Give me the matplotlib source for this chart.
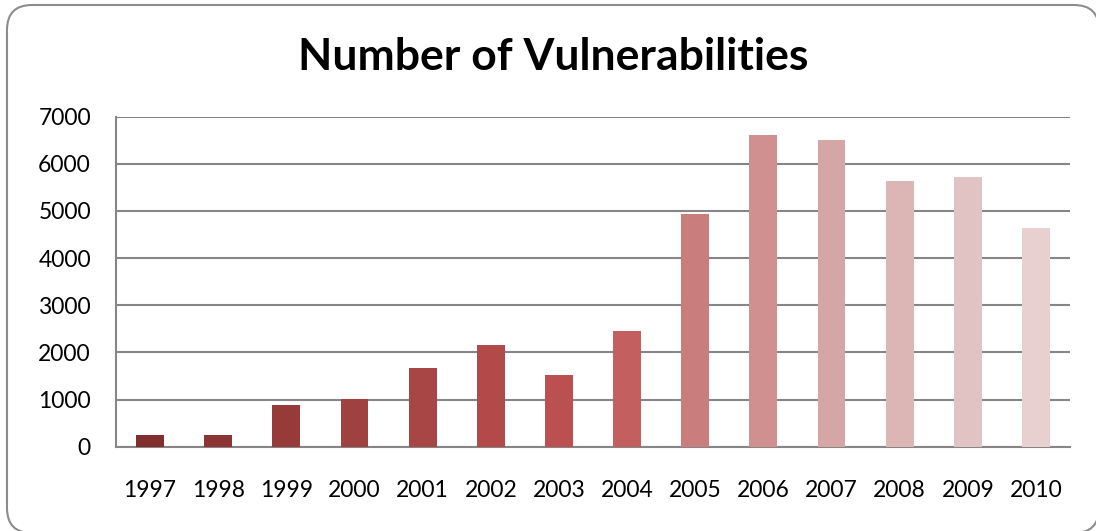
import matplotlib.pyplot as plt
from matplotlib.patches import FancyBboxPatch

years = ["1997", "1998", "1999", "2000", "2001", "2002", "2003",
         "2004", "2005", "2006", "2007", "2008", "2009", "2010"]
counts = [248, 248, 885, 1012, 1670, 2158, 1521,
          2455, 4936, 6612, 6506, 5636, 5721, 4639]
bar_colors = ["#822e2e", "#8c3333", "#963a3a", "#a04141", "#a84545",
              "#b24a4a", "#bc5050", "#c45f5f", "#c97d7d", "#d19090",
              "#d6a6a6", "#dcb5b5", "#e2c3c3", "#e8d0d0"]
y_ticks = [0, 1000, 2000, 3000, 4000, 5000, 6000, 7000]

plt.rcParams["font.family"] = ["Lato", "DejaVu Sans"]

fig = plt.figure(figsize=(10.96, 5.31), dpi=100)

# rounded chart-area border, partly running off the right and bottom edges.
# filled white so Agg does not clip the stroke onto the canvas edge
frame = FancyBboxPatch((0.07, -0.02), 10.92, 5.28,
                       boxstyle="round,pad=0,rounding_size=0.25",
                       transform=fig.dpi_scale_trans, facecolor="white",
                       edgecolor="#8c8c8c", linewidth=1.5, zorder=-1)
fig.patches.append(frame)

ax = fig.add_axes([0.1058, 0.1588, 0.8705, 0.6214])

positions = range(len(years))
ax.bar(positions, counts, width=0.41, color=bar_colors, zorder=3)

ax.set_xlim(-0.5, len(years) - 0.5)
ax.set_ylim(0, 7000)
ax.set_yticks(y_ticks)
ax.set_xticks(list(positions))
ax.set_xticklabels(years)
ax.tick_params(axis="both", length=0, labelsize=16.5, colors="black")
ax.tick_params(axis="x", pad=24)
ax.tick_params(axis="y", pad=18)

ax.grid(axis="y", color="#868686", linewidth=1.5, zorder=0)
for side in ("top", "right"):
    ax.spines[side].set_visible(False)
for side in ("left", "bottom"):
    ax.spines[side].set_color("#868686")
    ax.spines[side].set_linewidth(1.5)

fig.text(0.505, 0.893, "Number of Vulnerabilities", ha="center", va="center",
         fontsize=32, fontweight="bold")

fig.savefig("out.png", dpi=100)
